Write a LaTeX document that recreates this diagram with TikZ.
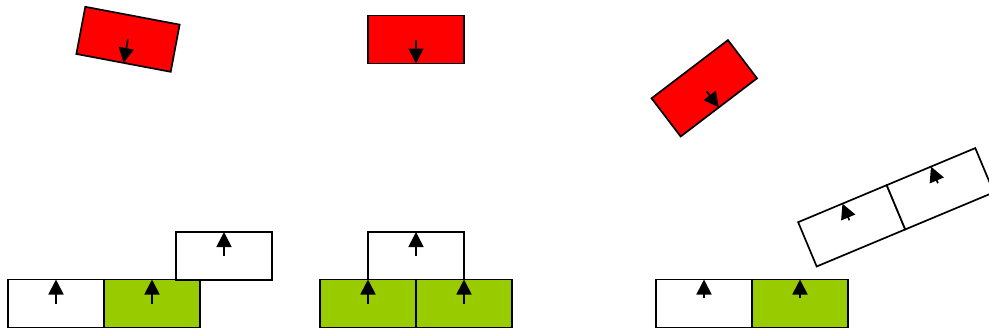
\documentclass[tikz,border=0pt]{standalone}
\usetikzlibrary{arrows.meta,calc}
\definecolor{boxred}{HTML}{FF0000}
\definecolor{boxgreen}{HTML}{99CC00}
\tikzset{
  cell/.style={draw=black, line width=1.7pt, minimum width=96pt, minimum height=48pt, inner sep=0pt, outer sep=0pt, fill=white},
  redcell/.style={cell, fill=boxred},
  greencell/.style={cell, fill=boxgreen},
  vec/.style={line width=1.7pt, -{Triangle[length=15pt,width=15pt]}}
}
\begin{document}
\begin{tikzpicture}[x=1pt,y=-1pt]
\path[use as bounding box, clip] (0,0) rectangle (989,333);
% panel 1
\node[cell] (a1) at (56,303.5) {};
\node[greencell] (a2) at (152,303.5) {};
\node[cell] (a3) at (224,256) {};
\node[redcell, rotate=-10.7] (a4) at (128,39.3) {};
\draw[vec] (a1.center) -- (a1.north);
\draw[vec] (a2.center) -- (a2.north);
\draw[vec] (a3.center) -- (a3.north);
\draw[vec] (a4.center) -- (a4.south);
% panel 2
\node[cell] (b3) at (416,256) {};
\node[greencell] (b1) at (368,303.5) {};
\node[greencell] (b2) at (464,303.5) {};
\node[redcell] (b4) at (416,39.5) {};
\draw[vec] (b1.center) -- (b1.north);
\draw[vec] (b2.center) -- (b2.north);
\draw[vec] (b3.center) -- (b3.north);
\draw[vec] (b4.center) -- (b4.south);
% panel 3
\node[cell] (c1) at (704,303.5) {};
\node[greencell] (c2) at (800,303.5) {};
\node[cell, rotate=22.7] (c3) at (851.7,225.8) {};
\node[cell, rotate=22.7, anchor=west] (c4) at (c3.east) {};
\node[redcell, rotate=37.3] (c5) at (704.3,88.3) {};
\draw[vec] ($(c1.north)!18pt!(c1.center)$) -- (c1.north);
\draw[vec] ($(c2.north)!18pt!(c2.center)$) -- (c2.north);
\draw[vec] ($(c3.north)!18pt!(c3.center)$) -- (c3.north);
\draw[vec] ($(c4.north)!18pt!(c4.center)$) -- (c4.north);
\draw[vec] ($(c5.south)!20pt!(c5.center)$) -- (c5.south);
\end{tikzpicture}
\end{document}
